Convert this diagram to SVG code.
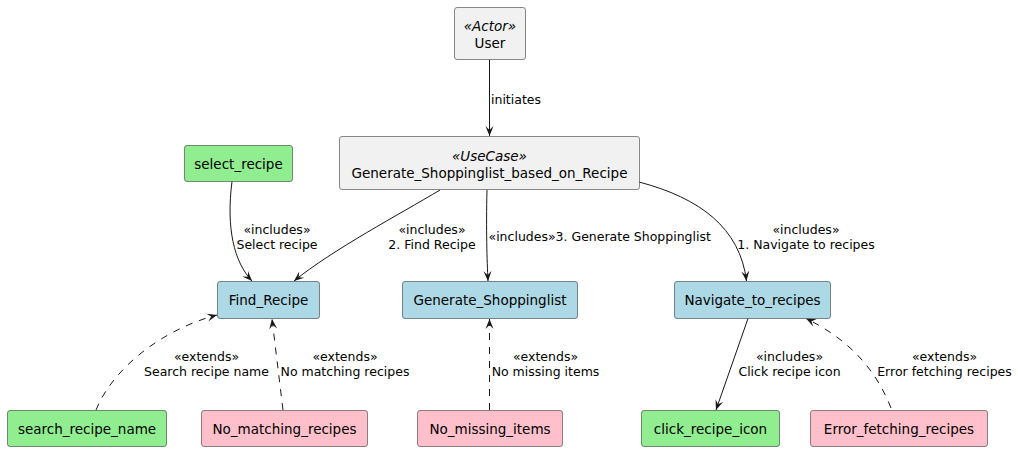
<svg xmlns="http://www.w3.org/2000/svg" width="1018" height="451" viewBox="0 0 1018 451">
<style>
.node rect{stroke:#181818;stroke-width:0.5}
.gray{fill:#F1F1F1}
.green{fill:#90EE90}
.pink{fill:#FFC0CB}
.blue{fill:#ADD8E6}
.nt{font-family:"DejaVu Sans",sans-serif;font-size:13.5px;fill:#000;text-anchor:middle}
.st{font-style:italic}
.lbl{font-family:"DejaVu Sans",sans-serif;font-size:12.5px;fill:#000}
.c{text-anchor:middle}
.e{fill:none;stroke:#181818;stroke-width:1}
.d{stroke-dasharray:7,7}
</style>
<defs>
<marker id="ah" markerUnits="userSpaceOnUse" viewBox="0 0 10 10" refX="10" refY="5" markerWidth="10" markerHeight="10" orient="auto">
<path d="M0,1 L10,5 L0,9 L4,5 Z" fill="#181818"/>
</marker>
</defs>
<g id="connectors">
<path class="e" d="M489.5,59.5 L489.5,136" marker-end="url(#ah)"/>
<path class="e" d="M232,181.5 C226,228 234,262 252,281" marker-end="url(#ah)"/>
<path class="e" d="M440,190 C400,214 332,250 294,281" marker-end="url(#ah)"/>
<path class="e" d="M487,190 C486,230 487,260 488,281" marker-end="url(#ah)"/>
<path class="e" d="M639,182 C700,198 740,228 746.5,281" marker-end="url(#ah)"/>
<path class="e" d="M748,318.5 L716,410" marker-end="url(#ah)"/>
<path class="e d" d="M96,410 C112,370 160,330 217,315" marker-end="url(#ah)"/>
<path class="e d" d="M283,410 L272,319" marker-end="url(#ah)"/>
<path class="e d" d="M489.5,410 L489.5,319" marker-end="url(#ah)"/>
<path class="e d" d="M891,408 C876,370 850,340 806,318.5" marker-end="url(#ah)"/>
<text class="lbl" x="491" y="104">initiates</text>
<text class="lbl c" x="277" y="234">«includes»</text>
<text class="lbl c" x="277" y="249">Select recipe</text>
<text class="lbl c" x="432" y="234">«includes»</text>
<text class="lbl c" x="432" y="249">2. Find Recipe</text>
<text class="lbl" x="488.5" y="241">«includes»3. Generate Shoppinglist</text>
<text class="lbl c" x="806" y="234">«includes»</text>
<text class="lbl c" x="806" y="249">1. Navigate to recipes</text>
<text class="lbl c" x="206.5" y="361">«extends»</text>
<text class="lbl c" x="206.5" y="376">Search recipe name</text>
<text class="lbl c" x="345" y="361">«extends»</text>
<text class="lbl c" x="345" y="376">No matching recipes</text>
<text class="lbl c" x="545.5" y="361">«extends»</text>
<text class="lbl c" x="545.5" y="376">No missing items</text>
<text class="lbl c" x="789.5" y="361">«includes»</text>
<text class="lbl c" x="789.5" y="376">Click recipe icon</text>
<text class="lbl c" x="944.5" y="361">«extends»</text>
<text class="lbl c" x="944.5" y="376">Error fetching recipes</text>
</g>
<g id="User" class="node"><rect class="gray" x="454.5" y="7.5" width="71" height="52" rx="2.5"/>
<text class="nt st" x="490" y="31">«Actor»</text><text class="nt" x="490" y="47.5">User</text></g>
<g id="Generate_Shoppinglist_based_on_Recipe" class="node"><rect class="gray" x="339.5" y="136.5" width="300" height="53" rx="2.5"/>
<text class="nt st" x="489.5" y="160.5">«UseCase»</text><text class="nt" x="489.5" y="177.5">Generate_Shoppinglist_based_on_Recipe</text></g>
<g id="select_recipe" class="node"><rect class="green" x="184.5" y="145.5" width="108" height="36" rx="2.5"/>
<text class="nt" x="238.5" y="168.5">select_recipe</text></g>
<g id="Find_Recipe" class="node"><rect class="blue" x="217.5" y="281.5" width="102" height="37" rx="2.5"/>
<text class="nt" x="268.5" y="305">Find_Recipe</text></g>
<g id="Generate_Shoppinglist" class="node"><rect class="blue" x="402.5" y="281.5" width="175" height="37" rx="2.5"/>
<text class="nt" x="490" y="305">Generate_Shoppinglist</text></g>
<g id="Navigate_to_recipes" class="node"><rect class="blue" x="674.5" y="281.5" width="156" height="37" rx="2.5"/>
<text class="nt" x="752.5" y="305">Navigate_to_recipes</text></g>
<g id="search_recipe_name" class="node"><rect class="green" x="7.5" y="410.5" width="159" height="36" rx="2.5"/>
<text class="nt" x="87" y="433.5">search_recipe_name</text></g>
<g id="No_matching_recipes" class="node"><rect class="pink" x="201.5" y="410.5" width="166" height="36" rx="2.5"/>
<text class="nt" x="284.5" y="433.5">No_matching_recipes</text></g>
<g id="No_missing_items" class="node"><rect class="pink" x="417.5" y="410.5" width="145" height="36" rx="2.5"/>
<text class="nt" x="490" y="433.5">No_missing_items</text></g>
<g id="click_recipe_icon" class="node"><rect class="green" x="641.5" y="410.5" width="138" height="36" rx="2.5"/>
<text class="nt" x="710.5" y="433.5">click_recipe_icon</text></g>
<g id="Error_fetching_recipes" class="node"><rect class="pink" x="810.5" y="410.5" width="177" height="36" rx="2.5"/>
<text class="nt" x="899" y="433.5">Error_fetching_recipes</text></g>
</svg>
